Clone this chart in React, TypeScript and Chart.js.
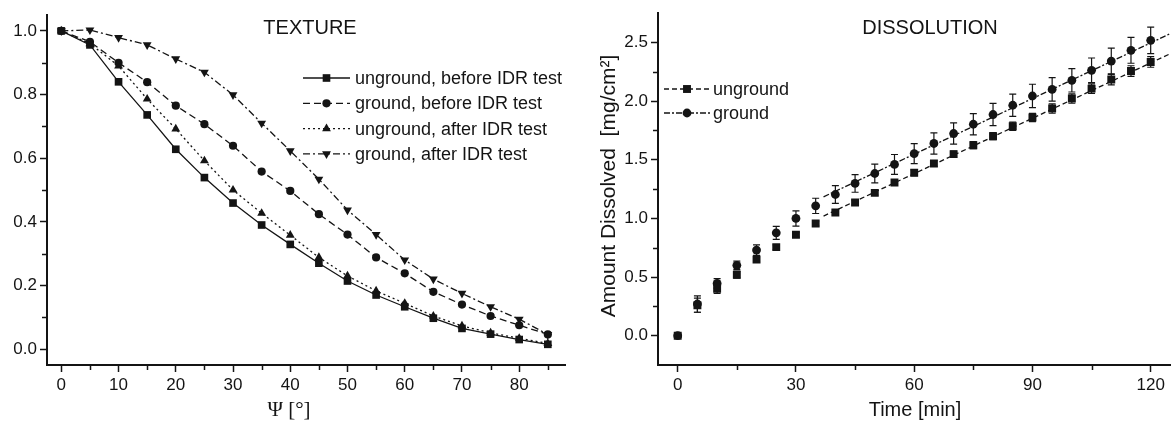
import React, { useEffect, useRef } from 'react';
import { Chart, registerables } from 'chart.js';

Chart.register(...registerables);

// ---------- TEXTURE data ----------
const psiDeg = [0, 5, 10, 15, 20, 25, 30, 35, 40, 45, 50, 55, 60, 65, 70, 75, 80, 85];
const ungroundBefore = [1.0, 0.956, 0.84, 0.736, 0.628, 0.539, 0.459, 0.39, 0.329, 0.27, 0.214, 0.17, 0.133, 0.097, 0.065, 0.047, 0.03, 0.015];
const groundBefore = [1.0, 0.966, 0.9, 0.839, 0.765, 0.707, 0.639, 0.558, 0.497, 0.424, 0.36, 0.288, 0.238, 0.18, 0.14, 0.104, 0.075, 0.046];
const ungroundAfter = [1.0, 0.96, 0.89, 0.786, 0.692, 0.592, 0.5, 0.427, 0.358, 0.288, 0.23, 0.183, 0.144, 0.104, 0.073, 0.051, 0.034, 0.018];
const groundAfter = [1.0, 1.003, 0.979, 0.956, 0.912, 0.87, 0.799, 0.71, 0.623, 0.534, 0.437, 0.36, 0.28, 0.22, 0.175, 0.133, 0.094, 0.046];
const textureLabels = ['unground, before IDR test', 'ground, before IDR test', 'unground, after IDR test', 'ground, after IDR test'];
const textureXTicks = [0, 10, 20, 30, 40, 50, 60, 70, 80];
const textureXMinor = [5, 15, 25, 35, 45, 55, 65, 75, 85];
const textureYTicks = [0, 0.2, 0.4, 0.6, 0.8, 1.0];
const textureYMinor = [0.1, 0.3, 0.5, 0.7, 0.9];

// ---------- DISSOLUTION data ----------
const timeMin = [0, 5, 10, 15, 20, 25, 30, 35, 40, 45, 50, 55, 60, 65, 70, 75, 80, 85, 90, 95, 100, 105, 110, 115, 120];
const ungroundMean = [0, 0.26, 0.40, 0.52, 0.65, 0.755, 0.86, 0.957, 1.051, 1.136, 1.218, 1.307, 1.389, 1.468, 1.548, 1.624, 1.701, 1.786, 1.86, 1.937, 2.022, 2.107, 2.184, 2.257, 2.334];
const ungroundErr = [0.01, 0.06, 0.04, 0.03, 0.02, 0.02, 0.02, 0.02, 0.02, 0.02, 0.02, 0.02, 0.025, 0.025, 0.025, 0.03, 0.03, 0.035, 0.035, 0.04, 0.04, 0.04, 0.045, 0.045, 0.045];
const groundMean = [0, 0.27, 0.446, 0.60, 0.73, 0.877, 1.0, 1.107, 1.204, 1.298, 1.383, 1.46, 1.553, 1.639, 1.724, 1.803, 1.886, 1.965, 2.044, 2.101, 2.178, 2.263, 2.342, 2.433, 2.519];
const groundErr = [0.01, 0.07, 0.04, 0.035, 0.045, 0.055, 0.065, 0.065, 0.075, 0.075, 0.08, 0.085, 0.085, 0.09, 0.09, 0.09, 0.095, 0.095, 0.1, 0.1, 0.1, 0.105, 0.11, 0.11, 0.113];
const fitTime = [37, 125];
const ungroundFit = [1.02, 2.405];
const groundFit = [1.184, 2.576];
const dissolutionLabels = ['unground', 'ground'];
const dissolutionXTicks = [0, 30, 60, 90, 120];
const dissolutionXMinor = [15, 45, 75, 105];
const dissolutionYTicks = [0, 0.5, 1.0, 1.5, 2.0, 2.5];
const dissolutionYMinor = [0.25, 0.75, 1.25, 1.75, 2.25];

const FONT = '"Liberation Sans", Arial, Helvetica, sans-serif';
const SERIF = '"Liberation Serif", "Times New Roman", serif';
const INK = '#141414';

const toXY = (xs: number[], ys: number[]) => xs.map((x, i) => ({ x, y: ys[i] }));

function drawMarker(ctx: CanvasRenderingContext2D, style: string, rotation: number, x: number, y: number, r: number) {
  ctx.beginPath();
  if (style === 'rect') {
    const s = r * Math.SQRT1_2;
    ctx.rect(x - s, y - s, 2 * s, 2 * s);
  } else if (style === 'triangle') {
    const r0 = (rotation || 0) * Math.PI / 180;
    for (let k = 0; k < 3; k++) {
      const a = r0 + k * 2 * Math.PI / 3;
      const px = x + Math.sin(a) * r;
      const py = y - Math.cos(a) * r;
      if (k === 0) ctx.moveTo(px, py); else ctx.lineTo(px, py);
    }
    ctx.closePath();
  } else {
    ctx.arc(x, y, r, 0, Math.PI * 2);
  }
  ctx.fill();
}

const decorPlugin = {
  id: 'decor',
  beforeDatasetsDraw(chart: any) {
    const ctx = chart.ctx as CanvasRenderingContext2D;
    const xs = chart.scales.x;
    const ys = chart.scales.y;
    chart.data.datasets.forEach((ds: any) => {
      if (!ds.errorBars) return;
      ctx.save();
      ctx.strokeStyle = INK;
      ctx.lineWidth = 1.2;
      const cap = 3.5;
      ds.data.forEach((pt: any, j: number) => {
        const e = ds.errorBars[j];
        const px = xs.getPixelForValue(pt.x);
        const yTop = ys.getPixelForValue(pt.y + e);
        const yBot = ys.getPixelForValue(pt.y - e);
        ctx.beginPath();
        ctx.moveTo(px, yTop); ctx.lineTo(px, yBot);
        ctx.moveTo(px - cap, yTop); ctx.lineTo(px + cap, yTop);
        ctx.moveTo(px - cap, yBot); ctx.lineTo(px + cap, yBot);
        ctx.stroke();
      });
      ctx.restore();
    });
  },
  afterDraw(chart: any, _args: any, opts: any) {
    const ctx = chart.ctx as CanvasRenderingContext2D;
    const area = chart.chartArea;
    const xs = chart.scales.x;
    const ys = chart.scales.y;
    ctx.save();
    // minor ticks
    ctx.strokeStyle = INK;
    ctx.lineWidth = 1.5;
    ctx.beginPath();
    (opts.minorX || []).forEach((v: number) => {
      const px = Math.round(xs.getPixelForValue(v)) + 0.5;
      ctx.moveTo(px, area.bottom);
      ctx.lineTo(px, area.bottom + 5);
    });
    (opts.minorY || []).forEach((v: number) => {
      const py = Math.round(ys.getPixelForValue(v)) + 0.5;
      ctx.moveTo(area.left, py);
      ctx.lineTo(area.left - 5, py);
    });
    ctx.stroke();

    // title
    ctx.fillStyle = INK;
    ctx.textBaseline = 'middle';
    if (opts.title) {
      ctx.font = `20px ${FONT}`;
      ctx.textAlign = 'center';
      ctx.fillText(opts.title.text, opts.title.x, opts.title.y);
    }
    // x axis title
    if (opts.xTitle) {
      ctx.font = `${opts.xTitle.size}px ${opts.xTitle.family}`;
      ctx.textAlign = 'center';
      ctx.fillText(opts.xTitle.text, opts.xTitle.x, opts.xTitle.y);
    }
    // y axis title
    if (opts.yTitle) {
      ctx.save();
      ctx.translate(opts.yTitle.x, opts.yTitle.y);
      ctx.rotate(-Math.PI / 2);
      ctx.font = `${opts.yTitle.size}px ${opts.yTitle.family}`;
      ctx.textAlign = 'center';
      ctx.fillText(opts.yTitle.text, 0, 0);
      ctx.restore();
    }
    // legend
    if (opts.legend) {
      const L = opts.legend;
      L.items.forEach((it: any, i: number) => {
        const y = L.y + i * L.dy;
        const lineDs = chart.data.datasets[it.line];
        const markDs = chart.data.datasets[it.marker];
        ctx.save();
        ctx.strokeStyle = INK;
        ctx.lineWidth = 1.3;
        ctx.setLineDash(lineDs.borderDash || []);
        ctx.beginPath();
        ctx.moveTo(L.x0, y);
        ctx.lineTo(L.x1, y);
        ctx.stroke();
        ctx.setLineDash([]);
        ctx.fillStyle = INK;
        drawMarker(ctx, markDs.pointStyle, markDs.pointRotation || 0, (L.x0 + L.x1) / 2, y, markDs.pointRadius);
        ctx.restore();
        ctx.fillStyle = INK;
        ctx.font = `18px ${FONT}`;
        ctx.textAlign = 'left';
        ctx.textBaseline = 'middle';
        ctx.fillText(markDs.label, L.textX, y + 1);
      });
    }
    ctx.restore();
  },
};

function makeScale(min: number, max: number, ticks: number[], fmt: (v: number) => string, fitSize: number, isX: boolean) {
  return {
    type: 'linear',
    min,
    max,
    afterBuildTicks: (scale: any) => { scale.ticks = ticks.map((v) => ({ value: v })); },
    afterFit: (scale: any) => { if (isX) scale.height = fitSize; else scale.width = fitSize; },
    grid: { display: true, drawOnChartArea: false, drawTicks: true, tickLength: 7, tickWidth: 1.5, tickColor: INK },
    border: { display: true, color: INK, width: 2 },
    ticks: {
      color: INK,
      font: { family: FONT, size: 17 },
      padding: 3,
      maxRotation: 0,
      autoSkip: false,
      callback: (v: any) => fmt(Number(v)),
    },
  };
}

function TextureChart() {
  const ref = useRef<HTMLCanvasElement | null>(null);
  useEffect(() => {
    if (!ref.current) return;
    const series = [ungroundBefore, groundBefore, ungroundAfter, groundAfter];
    const styles = [
      { pointStyle: 'rect', pointRadius: 5.4, borderDash: [] as number[], pointRotation: 0 },
      { pointStyle: 'circle', pointRadius: 4.1, borderDash: [7, 4], pointRotation: 0 },
      { pointStyle: 'triangle', pointRadius: 5.1, borderDash: [2, 3], pointRotation: 0 },
      { pointStyle: 'triangle', pointRadius: 5.1, borderDash: [7, 3, 2, 3], pointRotation: 180 },
    ];
    const chart = new Chart(ref.current, {
      type: 'scatter',
      data: {
        datasets: series.map((s, i) => ({
          label: textureLabels[i],
          data: toXY(psiDeg, s),
          showLine: true,
          borderColor: INK,
          backgroundColor: INK,
          pointBackgroundColor: INK,
          pointBorderWidth: 0,
          borderWidth: 1.3,
          tension: 0,
          ...styles[i],
        })),
      },
      options: {
        responsive: false,
        animation: false,
        events: [],
        layout: { padding: { left: 0, top: 15, right: 23, bottom: 0 } },
        plugins: {
          legend: { display: false },
          tooltip: { enabled: false },
          decor: {
            minorX: textureXMinor,
            minorY: textureYMinor,
            title: { text: 'TEXTURE', x: 310, y: 28 },
            xTitle: { text: 'Ψ [°]', x: 289, y: 410, size: 21, family: SERIF },
            legend: { x0: 303, x1: 350, textX: 355, y: 78, dy: 25.3, items: [0, 1, 2, 3].map((i) => ({ line: i, marker: i })) },
          },
        } as any,
        scales: {
          x: makeScale(-2.5, 88, textureXTicks, (v) => String(v), 59, true),
          y: makeScale(-0.05, 1.05, textureYTicks, (v) => v.toFixed(1), 47, false),
        } as any,
      },
      plugins: [decorPlugin],
    } as any);
    return () => chart.destroy();
  }, []);
  return <canvas ref={ref} width={588} height={424} style={{ position: 'absolute', left: 0, top: 0, display: 'block' }} />;
}

function DissolutionChart() {
  const ref = useRef<HTMLCanvasElement | null>(null);
  useEffect(() => {
    if (!ref.current) return;
    const chart = new Chart(ref.current, {
      type: 'scatter',
      data: {
        datasets: [
          {
            label: dissolutionLabels[0],
            data: toXY(timeMin, ungroundMean),
            errorBars: ungroundErr,
            pointStyle: 'rect',
            pointRadius: 5.6,
            pointBackgroundColor: INK,
            pointBorderWidth: 0,
            backgroundColor: INK,
            borderColor: INK,
            showLine: false,
          },
          {
            label: dissolutionLabels[1],
            data: toXY(timeMin, groundMean),
            errorBars: groundErr,
            pointStyle: 'circle',
            pointRadius: 4.4,
            pointBackgroundColor: INK,
            pointBorderWidth: 0,
            backgroundColor: INK,
            borderColor: INK,
            showLine: false,
          },
          {
            label: dissolutionLabels[0] + ' fit',
            data: toXY(fitTime, ungroundFit),
            showLine: true,
            pointRadius: 0,
            borderColor: INK,
            borderWidth: 1.3,
            borderDash: [5, 3],
          },
          {
            label: dissolutionLabels[1] + ' fit',
            data: toXY(fitTime, groundFit),
            showLine: true,
            pointRadius: 0,
            borderColor: INK,
            borderWidth: 1.3,
            borderDash: [6, 2, 2, 2],
          },
        ],
      },
      options: {
        responsive: false,
        animation: false,
        events: [],
        layout: { padding: { left: 0, top: 13, right: 1, bottom: 0 } },
        plugins: {
          legend: { display: false },
          tooltip: { enabled: false },
          decor: {
            minorX: dissolutionXMinor,
            minorY: dissolutionYMinor,
            title: { text: 'DISSOLUTION', x: 342, y: 28 },
            xTitle: { text: 'Time [min]', x: 327, y: 410, size: 20, family: FONT },
            yTitle: { text: 'Amount Dissolved  [mg/cm²]', x: 21, y: 186, size: 21, family: FONT },
            legend: { x0: 76, x1: 122, textX: 125, y: 89, dy: 24, items: [{ line: 2, marker: 0 }, { line: 3, marker: 1 }] },
          },
        } as any,
        scales: {
          x: makeScale(-5, 125, dissolutionXTicks, (v) => String(v), 59, true),
          y: makeScale(-0.25, 2.75, dissolutionYTicks, (v) => v.toFixed(1), 70, false),
        } as any,
      },
      plugins: [decorPlugin],
    } as any);
    return () => chart.destroy();
  }, []);
  return <canvas ref={ref} width={588} height={424} style={{ position: 'absolute', left: 588, top: 0, display: 'block' }} />;
}

export default function App() {
  return (
    <div style={{ position: 'absolute', left: 0, top: 0, width: 1176, height: 424, background: '#ffffff', overflow: 'hidden' }}>
      <TextureChart />
      <DissolutionChart />
    </div>
  );
}
